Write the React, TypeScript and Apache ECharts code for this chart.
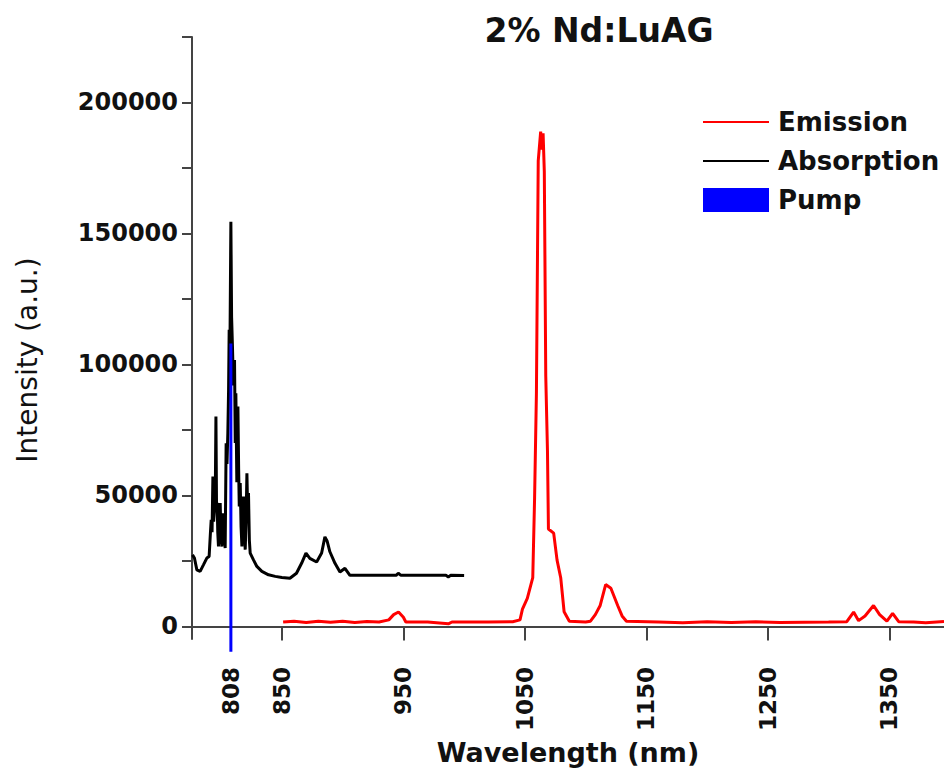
import React, { useEffect, useRef } from "react";
import * as echarts from "echarts";

const titleText = "2% Nd:LuAG";
const xName = "Wavelength (nm)";
const yName = "Intensity (a.u.)";
const legendNames = ["Emission", "Absorption", "Pump"];

const xTickValues = [808, 850, 950, 1050, 1150, 1250, 1350];
const yTickValues = [0, 25000, 50000, 75000, 100000, 125000, 150000, 175000, 200000, 225000];
const yLabelValues = [0, 50000, 100000, 150000, 200000];

const absorptionWl = [
  776.4, 778.0, 780.0, 782.7, 785.4, 788.2, 790.1, 791.2, 791.8, 792.5, 793.2, 793.8, 794.5, 795.2,
  795.7, 796.2, 796.7, 797.2, 797.8, 798.5, 799.2, 799.9, 800.6, 801.3, 801.9, 802.6, 803.3, 804.1,
  804.8, 805.5, 806.1, 806.6, 807.2, 808.0, 808.6, 809.3, 810.1, 811.0, 811.6, 812.1, 812.9, 813.8,
  814.4, 814.9, 815.3, 815.7, 816.4, 817.1, 817.8, 818.4, 819.1, 819.8, 820.5, 821.2, 821.9, 822.5,
  823.2, 823.9, 826.6, 829.4, 833.5, 839.0, 844.5, 850, 856.6, 862, 866.2, 869.8, 873, 878.6, 882.7,
  885.4, 887.3, 889.5, 893.7, 897.8, 901.9, 906, 944, 945.8, 948, 985, 987, 989, 1000,
];
const absorptionVal = [
  27300, 26100, 21600, 21000, 23500, 26100, 26700, 36000, 40700, 36000, 57200, 40000, 44500, 52000,
  80100, 45000, 47200, 36000, 30500, 44000, 47100, 34000, 30500, 40000, 43200, 36000, 29900, 69900,
  62000, 73800, 90000, 113200, 104000, 154500, 118000, 106800, 92000, 101700, 70000, 89000, 55000, 83900,
  60000, 45800, 50000, 54700, 38000, 30500, 42000, 49600, 38000, 29300, 40000, 58500, 42000, 50900,
  33000, 28000, 25400, 22900, 21000, 19700, 19100, 18700, 18400, 20300, 24100, 28000, 26000, 24600, 28000,
  34200, 32500, 28500, 24100, 20800, 22200, 19500, 19500, 20300, 19500, 19500, 18900, 19500, 19400,
];

const emissionWl = [
  851, 860, 870, 880, 890, 900, 910, 920, 930, 938, 942, 946, 950, 952, 970, 987, 990, 1020, 1040, 1046,
  1048, 1052, 1056.5, 1058, 1059.5, 1061, 1063, 1064, 1065, 1066, 1067.2, 1068.6, 1069.4, 1073.7, 1076.5,
  1079.5, 1082.3, 1086.6, 1100, 1104, 1108, 1112, 1116.5, 1120.8, 1126.4, 1130, 1133.6, 1160, 1180, 1200,
  1220, 1240, 1260, 1280, 1300, 1315, 1320.6, 1324.7, 1330, 1337, 1342, 1348, 1352.7, 1357.7, 1370, 1380, 1395,
];
const emissionVal = [
  1650, 2000, 1500, 2000, 1600, 2000, 1500, 1900, 1700, 2500, 4500, 5500, 3500, 1700, 1700, 1000, 1700, 1700, 1800, 2500,
  6600, 10700, 18600, 49000, 88900, 177700, 188900, 182000, 188200, 173700, 95500, 67000, 37200, 35600, 25300,
  18600, 5600, 2000, 1700, 2000, 4500, 8000, 16000, 14600, 8000, 4000, 2000, 1700, 1400, 1800,
  1500, 1800, 1500, 1600, 1700, 1800, 5500, 2200, 4000, 8000, 4500, 2000, 5000, 1800, 1700, 1400, 1900,
];

const pumpWl = [808, 808];
const pumpVal = [-9650, 108000];

const zip = (a: number[], b: number[]) => a.map((v, i) => [v, b[i]]);

const FONT = "DejaVu Sans";

export default function App() {
  const ref = useRef<HTMLDivElement>(null);
  useEffect(() => {
    if (!ref.current) return;
    const chart = echarts.init(ref.current, null, { renderer: "svg" });
    chart.setOption({
      animation: false,
      backgroundColor: "#ffffff",
      title: {
        text: titleText,
        left: 594,
        top: 9,
        textAlign: "center",
        textStyle: { fontFamily: FONT, fontSize: 33, fontWeight: "bold", color: "#111" },
      },
      legend: {
        orient: "vertical",
        left: 697,
        top: 104,
        itemWidth: 66,
        itemHeight: 24,
        itemGap: 13,
        textStyle: { fontFamily: FONT, fontSize: 26, fontWeight: "bold", color: "#111", padding: [0, 0, 0, 4] },
        data: [
          { name: legendNames[0], itemStyle: { opacity: 0 } },
          { name: legendNames[1], itemStyle: { opacity: 0 } },
          { name: legendNames[2], icon: "rect" },
        ],
      },
      grid: { left: 192, right: 0, top: 37, bottom: 129, containLabel: false, outerBoundsMode: "none" },
      xAxis: {
        type: "value",
        min: 776,
        max: 1395,
        name: xName,
        nameLocation: "middle",
        nameGap: 94,
        nameTextStyle: { fontFamily: FONT, fontSize: 27, fontWeight: "bold", color: "#111" },
        axisLine: { show: true, lineStyle: { color: "#444", width: 2 } },
        axisTick: { show: true, length: 14, customValues: xTickValues, lineStyle: { color: "#444", width: 2 } },
        axisLabel: {
          customValues: xTickValues,
          formatter: (v: number) => String(v),
          rotate: 90,
          margin: 28,
          fontFamily: FONT,
          fontSize: 23,
          fontWeight: "bold",
          color: "#111",
        },
        splitLine: { show: false },
      },
      yAxis: {
        type: "value",
        min: -4800,
        max: 225000,
        name: yName,
        nameLocation: "middle",
        nameGap: 151,
        nameTextStyle: { fontFamily: FONT, fontSize: 28, color: "#111", padding: [0, 44, 0, 0] },
        axisLine: { show: true, lineStyle: { color: "#444", width: 2 } },
        axisTick: { show: true, length: 10, customValues: yTickValues, lineStyle: { color: "#444", width: 2 } },
        axisLabel: {
          customValues: yLabelValues,
          formatter: (v: number) => String(v),
          margin: 14,
          fontFamily: FONT,
          fontSize: 24,
          fontWeight: "bold",
          color: "#111",
        },
        splitLine: { show: false },
      },
      series: [
        {
          name: legendNames[0],
          type: "line",
          data: zip(emissionWl, emissionVal),
          symbol: "none",
          lineStyle: { color: "#ff0000", width: 3 },
          itemStyle: { color: "#ff0000" },
          z: 3,
        },
        {
          name: legendNames[1],
          type: "line",
          data: zip(absorptionWl, absorptionVal),
          symbol: "none",
          lineStyle: { color: "#000000", width: 3 },
          itemStyle: { color: "#000000" },
          z: 2,
        },
        {
          name: legendNames[2],
          type: "line",
          data: zip(pumpWl, pumpVal),
          symbol: "none",
          clip: false,
          lineStyle: { color: "#0000ff", width: 3 },
          itemStyle: { color: "#0000ff" },
          z: 4,
        },
      ],
    });
    return () => chart.dispose();
  }, []);
  return (
    <div
      ref={ref}
      style={{ position: "fixed", left: 0, top: 0, width: 944, height: 768, background: "#fff" }}
    />
  );
}
